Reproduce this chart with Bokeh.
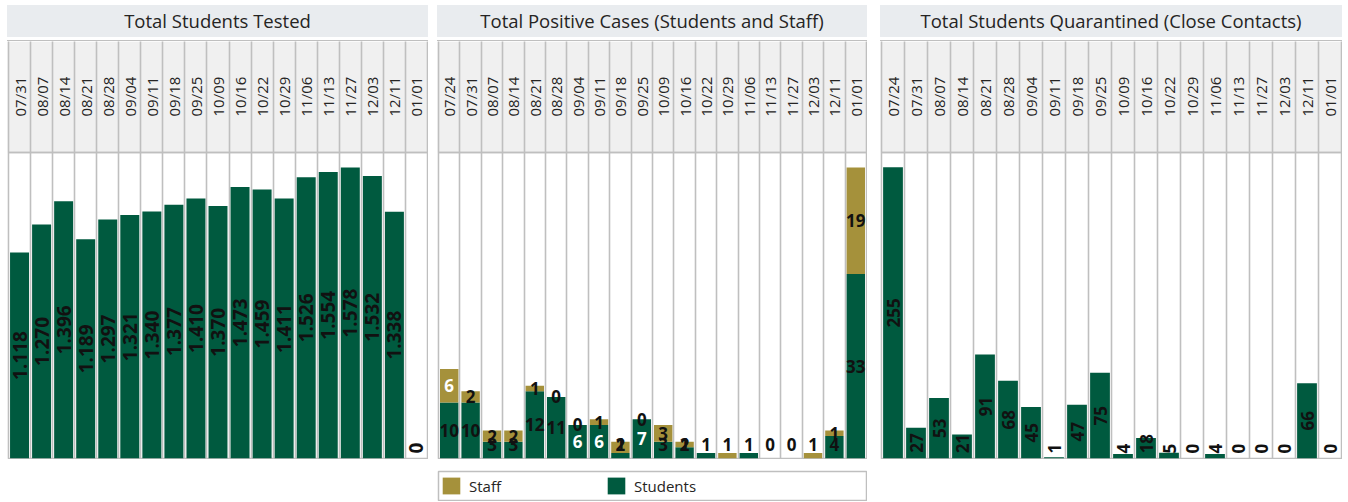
import math
from bokeh.plotting import figure
from bokeh.models import (ColumnDataSource, FixedTicker, Range1d, Div, Spacer,
                          Legend, LegendItem)
from bokeh.layouts import row, column
from bokeh.embed import file_html
from bokeh.resources import INLINE
from bokeh.core.properties import value

# ---------------- data ----------------
tested_dates = ["07/31", "08/07", "08/14", "08/21", "08/28", "09/04", "09/11",
                "09/18", "09/25", "10/09", "10/16", "10/22", "10/29", "11/06",
                "11/13", "11/27", "12/03", "12/11", "01/01"]
tested_values = [1118, 1270, 1396, 1189, 1297, 1321, 1340, 1377, 1410, 1370,
                 1473, 1459, 1411, 1526, 1554, 1578, 1532, 1338, 0]

cases_dates = ["07/24", "07/31", "08/07", "08/14", "08/21", "08/28", "09/04",
               "09/11", "09/18", "09/25", "10/09", "10/16", "10/22", "10/29",
               "11/06", "11/13", "11/27", "12/03", "12/11", "01/01"]
cases_students = [10, 10, 3, 3, 12, 11, 6, 6, 1, 7, 3, 2, 1, 0, 1, 0, 0, 0, 4, 33]
cases_staff = [6, 2, 2, 2, 1, 0, 0, 1, 2, 0, 3, 1, 0, 1, 0, 0, 0, 1, 1, 19]

quarantine_dates = ["07/24", "07/31", "08/07", "08/14", "08/21", "08/28", "09/04",
                    "09/11", "09/18", "09/25", "10/09", "10/16", "10/22", "10/29",
                    "11/06", "11/13", "11/27", "12/03", "12/11", "01/01"]
quarantine_values = [255, 27, 53, 21, 91, 68, 45, 1, 47, 75, 4, 18, 5, 0, 4, 0, 0, 0, 66, 0]

titles = ["Total Students Tested",
          "Total Positive Cases (Students and Staff)",
          "Total Students Quarantined (Close Contacts)"]

# ---------------- style ----------------
GREEN = "#005a3f"
GOLD = "#a5913b"
GRID = "#bfbfbf"
HEADER_BG = "#f0f0f0"
TITLE_BG = "#e9ecef"
TEXT = "#252423"
FONT = "Open Sans"

HEADER_H = 111
FRAME_H = 306
FIG_H = HEADER_H + FRAME_H + 1
W1, W2, W3 = 421, 430, 462
BAR_W = 0.86
LABEL_GAP = 36  # distance of date labels from the plot area


def fmt_thousands(v):
    return f"{v:,}".replace(",", ".")


def title_block(text, width):
    t = Div(text=text, width=width, height=32, margin=0,
            styles={"background-color": TITLE_BG, "font-family": f"'{FONT}', sans-serif",
                    "font-size": "18.5px", "color": TEXT, "text-align": "center",
                    "line-height": "31px", "overflow": "hidden", "white-space": "nowrap"})
    line = Div(text="", width=width, height=1, margin=0,
               styles={"background-color": GRID})
    return [t, Spacer(width=width, height=3, margin=0), line]


def make_panel(dates, width, y_end):
    n = len(dates)
    p = figure(width=width, height=FIG_H,
               x_range=Range1d(-0.5, n - 0.5), y_range=Range1d(0, y_end),
               x_axis_location="above", y_axis_location=None,
               toolbar_location=None, tools="", output_backend="svg",
               min_border=0, min_border_top=HEADER_H, min_border_left=1,
               min_border_right=1, min_border_bottom=1,
               border_fill_color=HEADER_BG, background_fill_color="white",
               outline_line_color=GRID, outline_line_width=1.5)
    bounds = [i - 0.5 for i in range(n + 1)]
    ax = p.xaxis[0]
    ax.ticker = FixedTicker(ticks=list(range(n)), minor_ticks=bounds)
    ax.major_label_overrides = {i: d for i, d in enumerate(dates)}
    ax.major_label_orientation = "vertical"
    ax.major_label_standoff = LABEL_GAP - HEADER_H
    ax.major_label_text_font = FONT
    ax.major_label_text_font_size = "15px"
    ax.major_label_text_color = TEXT
    ax.major_tick_line_color = None
    ax.major_tick_out = 0
    ax.major_tick_in = 0
    ax.minor_tick_out = HEADER_H
    ax.minor_tick_in = 0
    ax.minor_tick_line_color = GRID
    ax.minor_tick_line_width = 1.6
    ax.axis_line_color = GRID
    ax.axis_line_width = 1.5
    p.xgrid.ticker = FixedTicker(ticks=bounds)
    p.xgrid.grid_line_color = GRID
    p.xgrid.grid_line_width = 1.6
    p.ygrid.grid_line_color = None
    return p


def text_len_px(s, fs):
    return sum(0.28 * fs if c == "." else 0.58 * fs for c in s)


# ---------------- panel 1 ----------------
y1 = 1660
p1 = make_panel(tested_dates, W1, y1)
src1 = ColumnDataSource(dict(x=list(range(len(tested_values))), top=tested_values))
p1.vbar(x="x", top="top", width=BAR_W, fill_color=GREEN, line_color=None, source=src1)
upp1 = y1 / FRAME_H
lab1 = [fmt_thousands(v) for v in tested_values]
fs1 = 19
lab1_y = [max(v / 2, (text_len_px(s, fs1) / 2 + 5) * upp1) for v, s in zip(tested_values, lab1)]
p1.text(x=list(range(len(lab1))), y=lab1_y, text=lab1, angle=math.pi / 2,
        text_align="center", text_baseline="middle", text_font=value(FONT),
        text_font_style="bold", text_font_size=f"{fs1}px", text_color="#111111")

# ---------------- panel 2 ----------------
y2 = 54.7
p2 = make_panel(cases_dates, W2, y2)
n2 = len(cases_dates)
src2 = ColumnDataSource(dict(x=list(range(n2)), students=cases_students, staff=cases_staff))
p2.vbar_stack(["students", "staff"], x="x", width=BAR_W, color=[GREEN, GOLD],
              line_color=None, source=src2)
upp2 = y2 / FRAME_H
MIN2 = 14 * upp2
lx, ly, lt, lc = [], [], [], []
for i, (s, t) in enumerate(zip(cases_students, cases_staff)):
    total = s + t
    show_s = s > 0 or t == 0 or total >= 3
    if show_s:
        lx.append(i)
        ly.append(max(s / 2, MIN2))
        lt.append(str(s))
        lc.append("white" if (s < 10 and s / upp2 >= 26) else "#111111")
    show_t = t > 0 or (total >= 3)
    if show_t:
        lx.append(i)
        ly.append(max(s + t / 2, MIN2))
        lt.append(str(t))
        lc.append("white" if (t < 10 and t / upp2 >= 26) else "#111111")
p2.text(x=lx, y=ly, text=lt, text_color=lc, text_align="center", text_baseline="middle",
        text_font=value(FONT), text_font_style="bold", text_font_size="17px")

# legend figure
lf = figure(width=W2, height=31, x_range=Range1d(0, 1), y_range=Range1d(0, 1),
            toolbar_location=None, tools="", output_backend="svg",
            x_axis_location=None, y_axis_location=None, min_border=1,
            outline_line_color=GRID, outline_line_width=1.5,
            background_fill_color="white", border_fill_color="white")
lf.grid.visible = False
# off-screen placeholder marks, only so that the legend can draw its swatches
r_staff = lf.vbar(x=[-10], top=[0], width=0.5, fill_color=GOLD, line_color=None)
r_stu = lf.vbar(x=[-10], top=[0], width=0.5, fill_color=GREEN, line_color=None)
leg = Legend(items=[LegendItem(label="Staff", renderers=[r_staff]),
                    LegendItem(label="Students", renderers=[r_stu])],
             orientation="horizontal", location=(2, 4), glyph_width=22, glyph_height=21,
             label_standoff=7, label_width=131, spacing=5, padding=0, margin=0,
             border_line_color=None, background_fill_alpha=0,
             label_text_font=FONT, label_text_font_size="15px", label_text_color=TEXT)
lf.add_layout(leg)

# ---------------- panel 3 ----------------
y3 = 268
p3 = make_panel(quarantine_dates, W3, y3)
src3 = ColumnDataSource(dict(x=list(range(len(quarantine_values))), top=quarantine_values))
p3.vbar(x="x", top="top", width=BAR_W, fill_color=GREEN, line_color=None, source=src3)
upp3 = y3 / FRAME_H
fs3 = 17
lab3 = [str(v) for v in quarantine_values]
lab3_y = [max(v / 2, (text_len_px(s, fs3) / 2 + 5) * upp3) for v, s in zip(quarantine_values, lab3)]
p3.text(x=list(range(len(lab3))), y=lab3_y, text=lab3, angle=math.pi / 2,
        text_align="center", text_baseline="middle", text_font=value(FONT),
        text_font_style="bold", text_font_size=f"{fs3}px", text_color="#111111")

# ---------------- layout ----------------
col1 = column(*title_block(titles[0], W1), p1)
col2 = column(*title_block(titles[1], W2), p2, Spacer(width=W2, height=11, margin=0), lf)
col3 = column(*title_block(titles[2], W3), p3)
panels = row(Spacer(width=7, margin=0), col1, Spacer(width=9, margin=0), col2,
             Spacer(width=13, margin=0), col3)
layout = column(Spacer(height=5, margin=0), panels)

open("out.html", "w").write(file_html(layout, INLINE))
